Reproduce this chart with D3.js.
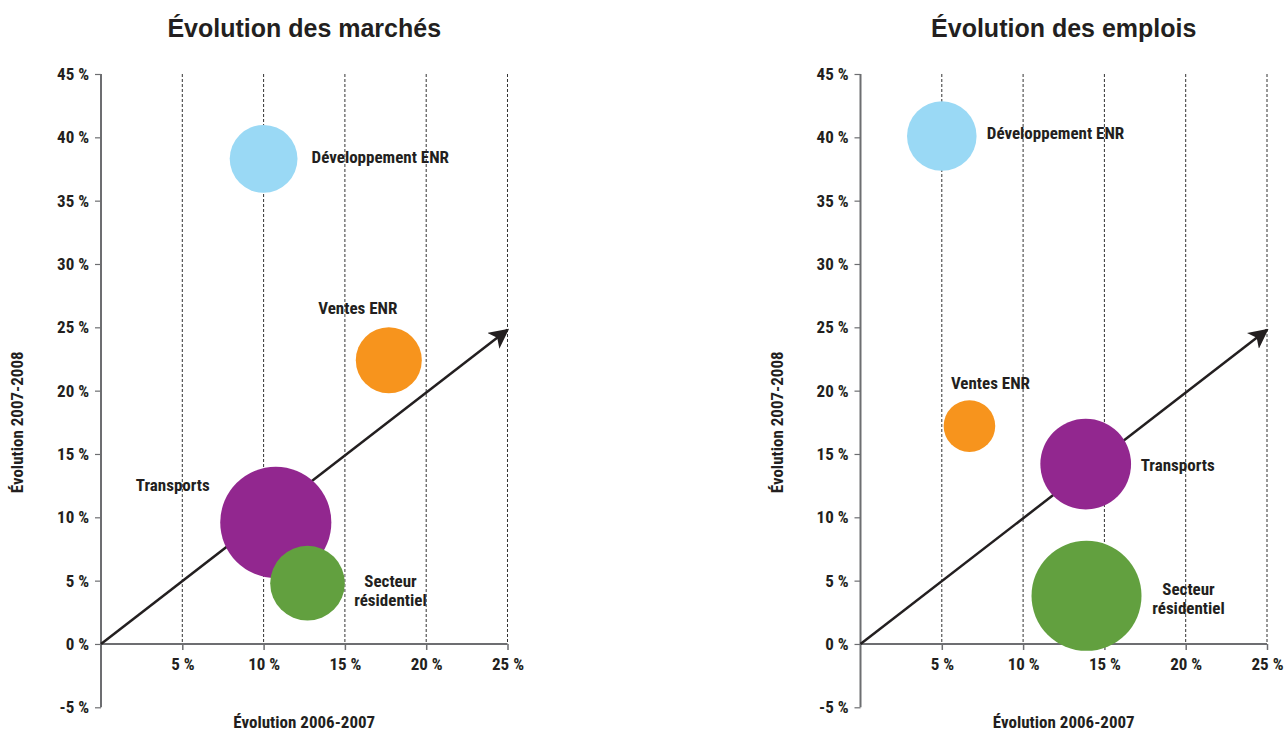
<!DOCTYPE html>
<html><head><meta charset="utf-8">
<script src="https://cdn.jsdelivr.net/npm/d3@7"></script>
<style>
body{margin:0;background:#fff;}
text{fill:#231f20;}
.cond{font-family:"Liberation Sans Narrow","Roboto Condensed","Liberation Sans",sans-serif;font-weight:bold;font-stretch:condensed;}
.title{font-family:"Liberation Sans",Helvetica,Arial,sans-serif;font-weight:bold;font-size:25px;}
</style></head>
<body><svg id="c" width="1287" height="731"></svg>
<script>
const xTicks = [5, 10, 15, 20, 25];
const yTicks = [-5, 0, 5, 10, 15, 20, 25, 30, 35, 40, 45];
const categories = ["Développement ENR", "Ventes ENR", "Transports", "Secteur résidentiel"];
const colors = ["#9ad9f5", "#f7941d", "#92278f", "#62a03f"];
const marchesX = [10, 17.7, 10.75, 12.7];
const marchesY = [38.3, 22.4, 9.6, 4.8];
const marchesSize = [38, 36, 102, 46];
const emploisX = [5, 6.7, 13.85, 13.9];
const emploisY = [40.1, 17.2, 14.2, 3.8];
const emploisSize = [40, 22, 68, 100];
const arrowEnd = [25, 24.8];
const titles = ["Évolution des marchés", "Évolution des emplois"];
const xTitle = "Évolution 2006-2007";
const yTitle = "Évolution 2007-2008";

// layout: label offsets (px) relative to bubble centre
const labelLayout = [
  [{dx:48,dy:0,a:"start"},{dx:-31,dy:-50,a:"middle"},{dx:-103,dy:-35,a:"middle"},{dx:83,dy:0,a:"middle"}],
  [{dx:45,dy:-1,a:"start"},{dx:21,dy:-41,a:"middle"},{dx:55,dy:3,a:"start"},{dx:102,dy:-5,a:"middle"}]
];
const panels = [
  {x0:101, title:titles[0], xs:marchesX, ys:marchesY, sz:marchesSize},
  {x0:860.5, title:titles[1], xs:emploisX, ys:emploisY, sz:emploisSize}
];

const svg = d3.select("#c");
const rScale = d3.scaleSqrt().domain([0,100]).range([0,55]);
const fmt = d => d + " %";

svg.append("defs").append("marker").attr("id","arr")
  .attr("viewBox","0 0 10 10").attr("refX",9).attr("refY",5)
  .attr("markerWidth",20).attr("markerHeight",20).attr("markerUnits","userSpaceOnUse")
  .attr("orient","auto")
  .append("path").attr("d","M0,0 L10,5 L0,10 L2.5,5 Z").attr("fill","#231f20");

panels.forEach((p, pi) => {
  const g = svg.append("g");
  const x = d3.scaleLinear().domain([0,25]).range([p.x0, p.x0 + 406.5]);
  const y = d3.scaleLinear().domain([-5,45]).range([707.3, 74]);

  g.append("text").attr("class","title").attr("x", x(12.5)).attr("y", 37)
    .attr("text-anchor","middle").text(p.title);

  g.selectAll(".grid").data(xTicks).join("line")
    .attr("x1", d=>x(d)).attr("x2", d=>x(d)).attr("y1", y(45)).attr("y2", y(0))
    .attr("stroke","#333").attr("stroke-width",1).attr("stroke-dasharray","3,2");

  const ya = d3.axisLeft(y).tickValues(yTicks).tickFormat(fmt).tickSize(6).tickPadding(6);
  const yg = g.append("g").attr("transform",`translate(${x(0)},0)`).call(ya);
  yg.select(".domain").attr("stroke","#6d6e71").attr("stroke-width",2).attr("d",`M0,${y(45)}V${y(-5)}`);
  yg.selectAll(".tick line").attr("stroke","#6d6e71").attr("stroke-width",1.2);
  yg.selectAll(".tick text").attr("class","cond").style("font-size","17px").attr("fill","#231f20");

  const xa = d3.axisBottom(x).tickValues(xTicks).tickFormat(fmt).tickSize(6).tickPadding(8);
  const xg = g.append("g").attr("transform",`translate(0,${y(0)})`).call(xa);
  xg.select(".domain").attr("stroke","#6d6e71").attr("stroke-width",2).attr("d",`M${x(0)},0H${x(25)}`);
  xg.selectAll(".tick line").attr("stroke","#6d6e71").attr("stroke-width",1.5);
  xg.selectAll(".tick text").attr("class","cond").style("font-size","17px").attr("fill","#231f20");

  g.append("text").attr("class","cond").style("font-size","17px")
    .attr("x", x(12.5)).attr("y", 728).attr("text-anchor","middle").text(xTitle);
  g.append("text").attr("class","cond").style("font-size","17px")
    .attr("transform",`translate(${p.x0 - 82},${y(17.5)}) rotate(-90)`)
    .attr("text-anchor","middle").attr("dominant-baseline","middle").text(yTitle);

  g.append("line").attr("x1",x(0)).attr("y1",y(0)).attr("x2",x(arrowEnd[0])).attr("y2",y(arrowEnd[1]))
    .attr("stroke","#231f20").attr("stroke-width",2.5).attr("marker-end","url(#arr)");

  const data = categories.map((c,i)=>({c, x:p.xs[i], y:p.ys[i], s:p.sz[i], col:colors[i], lab:labelLayout[pi][i]}));
  g.selectAll("circle.b").data(data).join("circle")
    .attr("cx", d=>x(d.x)).attr("cy", d=>y(d.y)).attr("r", d=>rScale(d.s)).attr("fill", d=>d.col);

  data.forEach(d => {
    const t = g.append("text").attr("class","cond").style("font-size","17px")
      .attr("text-anchor", d.lab.a).attr("dominant-baseline","middle");
    const words = d.c === "Secteur résidentiel" ? ["Secteur","résidentiel"] : [d.c];
    words.forEach((w,k) => {
      t.append("tspan").attr("x", x(d.x)+d.lab.dx).attr("y", y(d.y)+d.lab.dy + k*19).text(w);
    });
  });
});
</script></body></html>
